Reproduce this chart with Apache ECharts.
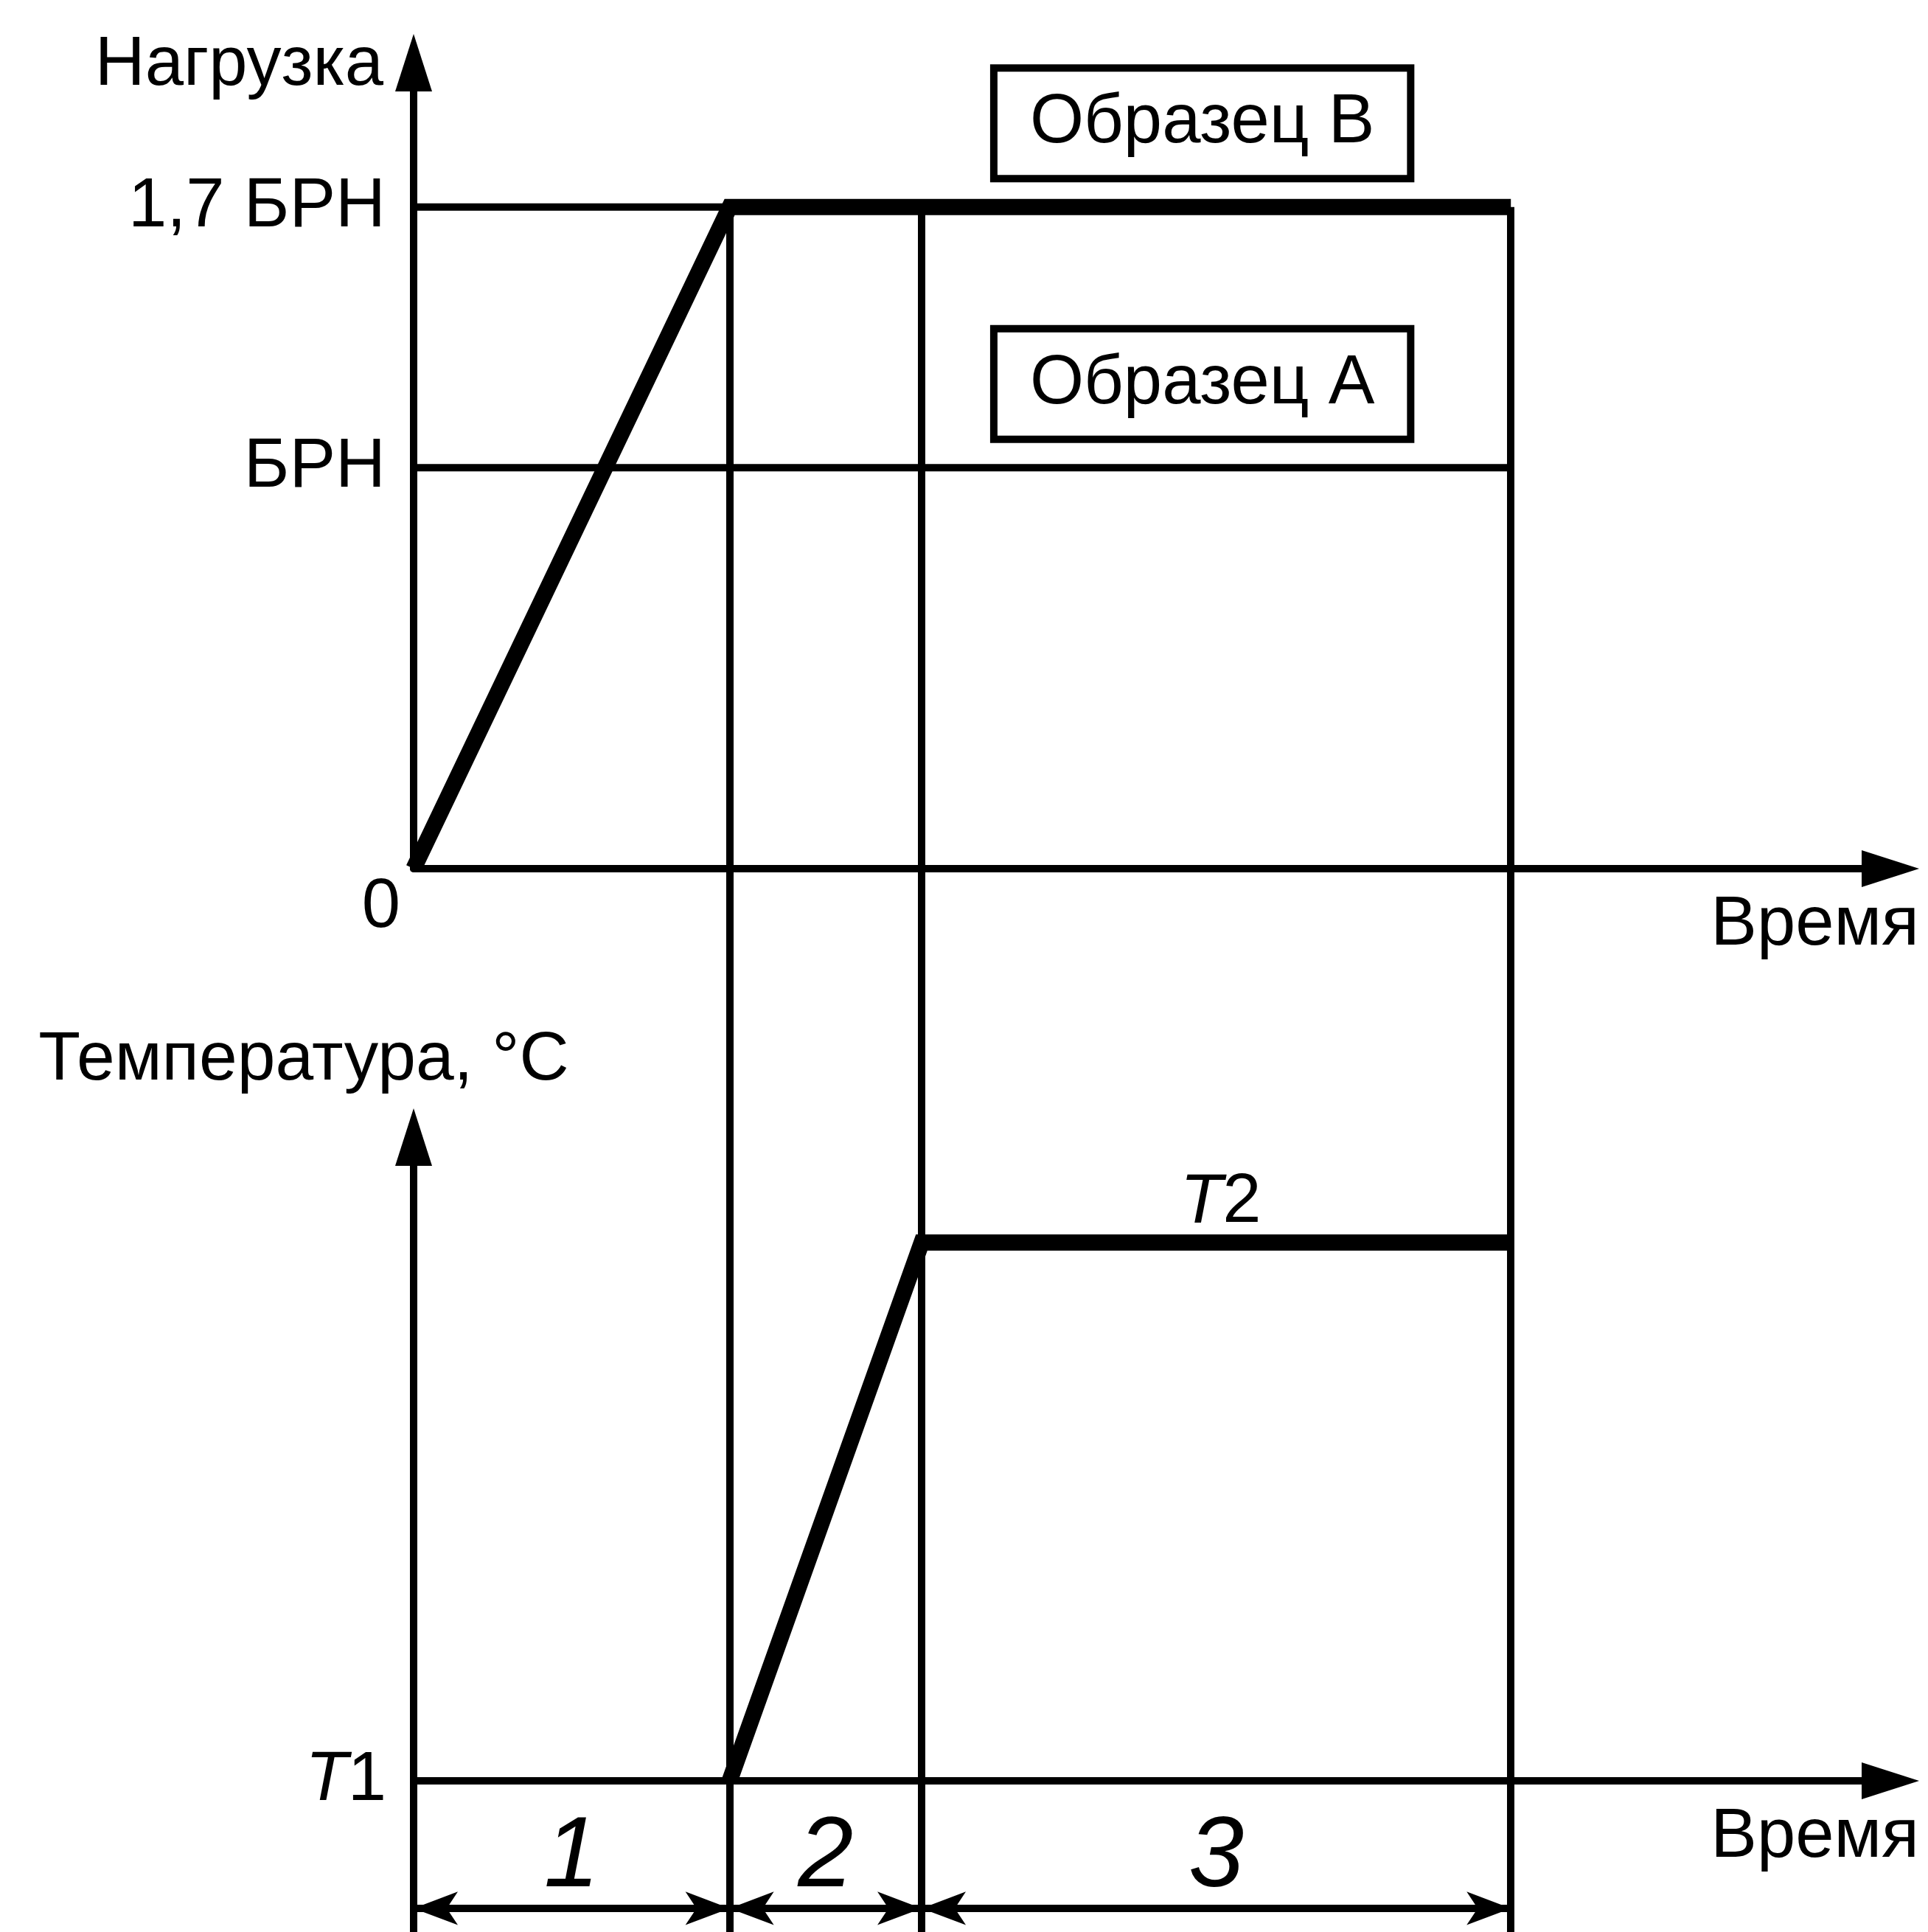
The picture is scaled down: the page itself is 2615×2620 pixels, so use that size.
<!DOCTYPE html>
<html>
<head>
<meta charset="utf-8">
<script src="https://cdn.jsdelivr.net/npm/echarts@6/dist/echarts.min.js"></script>
<style>
  html, body { margin: 0; padding: 0; background: #fff; }
  #chart { width: 2615px; height: 2620px; }
</style>
</head>
<body>
<div id="chart"></div>
<script>
// time axis runs 0..100, phase boundaries
var phaseTimes = [0, 21.4, 34.4, 74.3];
var phaseNames = ['1', '2', '3'];

// load, in units of БРН (drawn levels)
var loadLevels = [1, 1.65];
var loadLabels = ['БРН', '1,7 БРН'];
var sampleNames = ['Образец А', 'Образец В'];

// temperature relative to T1 (T1 = 0, T2 = 1)
var tempLevels = [0, 1];
var tempLabels = ['T1', 'T2'];

var FONT = "'Liberation Sans', Arial, sans-serif";
var INK = '#000';
var THIN = 10;
var THICK = 22;
var DIM_Y = -0.237; // level of the dimension arrows under T1

var t = phaseTimes;
var loadTop = loadLevels[1];
var tempTop = tempLevels[1];

function italicT(s) {
  return '{i|' + s.charAt(0) + '}' + s.slice(1);
}

function axisLine(arrow) {
  return {
    show: true,
    onZero: true,
    symbol: ['none', arrow ? 'triangle' : 'none'],
    symbolSize: [50, 78],
    lineStyle: { color: INK, width: THIN }
  };
}

function timeAxis(gridIndex, show) {
  return {
    type: 'value',
    gridIndex: gridIndex,
    show: show,
    min: 0,
    max: 100,
    axisLine: axisLine(true),
    axisTick: { show: false },
    splitLine: { show: false },
    axisLabel: { show: false },
    name: show ? 'Время' : '',
    nameLocation: 'end',
    nameGap: 39,
    nameTextStyle: {
      fontFamily: FONT, fontSize: 94, color: INK,
      align: 'right', verticalAlign: 'top', padding: [30, 0, 0, 0]
    }
  };
}

function seg(name, gridIndex, points, width) {
  return {
    type: 'line',
    name: name,
    xAxisIndex: gridIndex,
    yAxisIndex: gridIndex,
    data: points,
    symbol: 'none',
    showSymbol: false,
    silent: true,
    z: width > THIN ? 5 : 3,
    lineStyle: { color: INK, width: width, cap: 'butt', join: 'miter' }
  };
}

function markHost(name, gridIndex, lines, extra) {
  var ml = {
    silent: true,
    symbol: 'none',
    animation: false,
    label: { show: false },
    emphasis: { disabled: true },
    lineStyle: { color: INK, width: THIN, type: 'solid' },
    data: lines
  };
  if (extra) {
    for (var k in extra) ml[k] = extra[k];
  }
  return {
    type: 'line',
    name: name,
    xAxisIndex: gridIndex,
    yAxisIndex: gridIndex,
    color: INK,
    data: [],
    z: 3,
    markLine: ml
  };
}

function textPoints(name, gridIndex, items, label) {
  return {
    type: 'scatter',
    name: name,
    xAxisIndex: gridIndex,
    yAxisIndex: gridIndex,
    symbolSize: 1,
    silent: true,
    itemStyle: { color: 'rgba(0,0,0,0)', opacity: 1 },
    label: label,
    data: items,
    z: 6
  };
}

// vertical phase lines, upper part starts at the top load level
var upperVerticals = [];
var gapVerticals = [];
for (var i = 1; i < t.length; i++) {
  upperVerticals.push([{ coord: [t[i], loadTop] }, { coord: [t[i], 0] }]);
  gapVerticals.push({ xAxis: t[i] });
}

// dimension arrows with phase numbers
var dims = [];
for (var j = 0; j < phaseNames.length; j++) {
  dims.push([{ coord: [t[j], DIM_Y], name: phaseNames[j] }, { coord: [t[j + 1], DIM_Y] }]);
}

var samplePoints = [];
for (var s = 0; s < sampleNames.length; s++) {
  samplePoints.push({ value: [(t[2] + t[3]) / 2, loadLevels[s]], name: sampleNames[s] });
}

var option = {
  animation: false,
  backgroundColor: '#fff',
  grid: [
    { left: 561, right: 51, top: 85, height: 1093 },
    { left: 561, right: 51, top: 1178, height: 364 },
    { left: 561, right: 51, top: 1542, height: 1078 }
  ],
  xAxis: [
    (function () {
      var a = timeAxis(0, true);
      a.axisLabel = {
        show: true,
        customValues: [0],
        margin: 6,
        formatter: function () { return '{z|0}'; },
        rich: { z: { fontFamily: FONT, fontSize: 94, color: INK, padding: [0, 88, 0, 0] } }
      };
      return a;
    })(),
    timeAxis(1, false),
    timeAxis(2, true)
  ],
  yAxis: [
    {
      type: 'value', gridIndex: 0, min: 0, max: 2.01,
      axisLine: axisLine(true),
      axisTick: { show: false },
      splitLine: { show: false },
      axisLabel: {
        show: true,
        customValues: loadLevels,
        margin: 38,
        fontFamily: FONT, fontSize: 94, color: INK,
        formatter: function (v) { return loadLabels[loadLevels.indexOf(v)]; }
      },
      name: 'Нагрузка',
      nameLocation: 'end',
      nameGap: -4,
      nameTextStyle: {
        fontFamily: FONT, fontSize: 94, color: INK,
        align: 'right', verticalAlign: 'middle', padding: [0, 41, 0, 0]
      }
    },
    {
      type: 'value', gridIndex: 1, min: 0, max: 1, show: false
    },
    {
      type: 'value', gridIndex: 2, min: -0.281, max: 1.196,
      axisLine: axisLine(true),
      axisTick: { show: false },
      splitLine: { show: false },
      axisLabel: {
        show: true,
        customValues: [tempLevels[0]],
        margin: 37,
        fontFamily: FONT, fontSize: 94, color: INK,
        formatter: function () { return italicT(tempLabels[0]); },
        rich: { i: { fontFamily: FONT, fontSize: 94, color: INK, fontStyle: 'italic' } }
      },
      name: 'Температура, °С',
      nameLocation: 'end',
      nameGap: 104,
      nameTextStyle: {
        fontFamily: FONT, fontSize: 93, color: INK,
        align: 'center', verticalAlign: 'middle', padding: [0, 298, 0, 0]
      }
    }
  ],
  series: [
    // upper panel: load
    seg('БРН', 0, [[t[0], loadLevels[0]], [t[3], loadLevels[0]]], THIN),
    seg('1,7 БРН', 0, [[t[0], loadTop], [t[1], loadTop]], THIN),
    markHost('фазы', 0, upperVerticals),
    seg('Нагрузка', 0, [[t[0], 0], [t[1], loadTop], [t[3], loadTop]], THICK),
    textPoints('Образцы', 0, samplePoints, {
      show: true,
      position: 'top',
      distance: 43,
      offset: [-19, 0],
      formatter: '{b}',
      fontFamily: FONT, fontSize: 94, color: INK, lineHeight: 96,
      backgroundColor: '#fff',
      borderColor: INK, borderWidth: 10,
      padding: [22, 44]
    }),
    // gap between panels
    markHost('фазы-промежуток', 1, gapVerticals),
    // lower panel: temperature
    markHost('фазы-температура', 2, gapVerticals),
    seg('Температура', 2, [[t[1], tempLevels[0]], [t[2], tempTop], [t[3], tempTop]], THICK),
    textPoints('T2', 2, [{ value: [(t[2] + t[3]) / 2, tempTop], name: tempLabels[1] }], {
      show: true,
      position: 'top',
      distance: 6,
      offset: [6, 0],
      formatter: function (p) { return italicT(p.name); },
      fontFamily: FONT, fontSize: 94, color: INK,
      rich: { i: { fontFamily: FONT, fontSize: 94, color: INK, fontStyle: 'italic' } }
    }),
    markHost('этапы', 2, dims, {
      symbol: ['arrow', 'arrow'],
      symbolSize: [34, 60],
      itemStyle: { color: INK },
      label: {
        show: true,
        position: 'middle',
        distance: 0,
        formatter: '{b}',
        fontFamily: FONT, fontSize: 135, fontStyle: 'italic', color: INK
      }
    })
  ]
};

var chart = echarts.init(document.getElementById('chart'));
chart.setOption(option);
</script>
</body>
</html>
